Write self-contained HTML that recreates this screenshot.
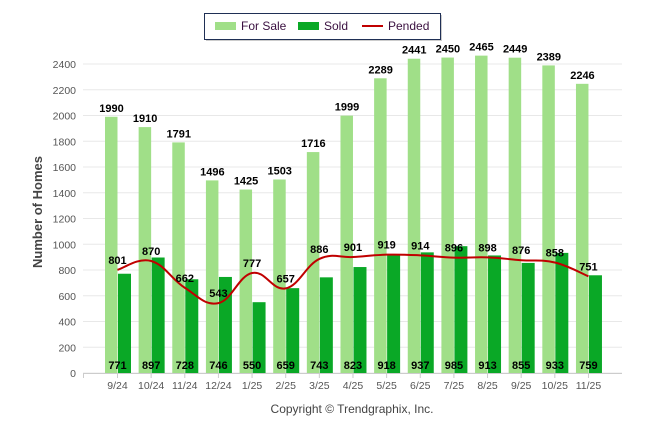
<!DOCTYPE html>
<html><head><meta charset="utf-8"><style>
body{margin:0;background:#fff;width:646px;height:434px;overflow:hidden;font-family:"Liberation Sans",Arial,sans-serif}
svg{display:block}
</style></head><body>
<svg id="chart" width="646" height="434" xmlns="http://www.w3.org/2000/svg"></svg>
<script>
const categories=["9/24","10/24","11/24","12/24","1/25","2/25","3/25","4/25","5/25","6/25","7/25","8/25","9/25","10/25","11/25"];
const forSale=[1990,1910,1791,1496,1425,1503,1716,1999,2289,2441,2450,2465,2449,2389,2246];
const sold=[771,897,728,746,550,659,743,823,918,937,985,913,855,933,759];
const pended=[801,870,662,543,777,657,886,901,919,914,896,898,876,858,751];
const yTicks=[0,200,400,600,800,1000,1200,1400,1600,1800,2000,2200,2400];

const svg=document.getElementById('chart');
const NS='http://www.w3.org/2000/svg';
function mk(tag,attrs,parent){const e=document.createElementNS(NS,tag);for(const k in attrs)e.setAttribute(k,attrs[k]);(parent||svg).appendChild(e);return e;}
const y0=373,yTop=64,vTop=2400;
function yScale(v){return y0-(v/vTop)*(y0-yTop);}
function xScale(i){return 117.5+33.64*i;}

// grid + y labels
yTicks.forEach(t=>{
  const g=mk('line',{x1:83,x2:622,y1:yScale(t),y2:yScale(t),stroke:'#e8e8e8','stroke-width':1});
  
  
  const l=mk('text',{x:76,y:yScale(t)+4,'text-anchor':'end','font-size':'10.5',fill:'#555'});
  l.textContent=t;
  
  
});
const ax=mk('line',{x1:83,x2:622,y1:y0+0.5,y2:y0+0.5,stroke:'#ccc'});


mk('line',{x1:83.5,x2:83.5,y1:y0,y2:y0+5,stroke:'#ccc'});

const yt=mk('text',{x:0,y:0,transform:'translate(42,212) rotate(-90)','text-anchor':'middle','font-size':'13','font-weight':'bold',fill:'#444'});
yt.textContent='Number of Homes';



categories.forEach((c,i)=>{
  const cx=xScale(i);
  mk('line',{x1:cx,x2:cx,y1:y0,y2:y0+5,stroke:'#ccc'});
  const b1=mk('rect',{x:cx-12.5,y:yScale(forSale[i]),width:12.5,height:y0-yScale(forSale[i]),fill:'#a0df88'});
  
  
  const b2=mk('rect',{x:cx+0.5,y:yScale(sold[i]),width:13,height:y0-yScale(sold[i]),fill:'#0aa826'});
  
  
  const tl=mk('text',{x:cx,y:389,'text-anchor':'middle','font-size':'10.5',fill:'#555'});
  tl.textContent=c;
  
  
});

// pended smooth line
const pts=pended.map((v,i)=>[xScale(i),yScale(v)]);
let d='M'+pts[0][0]+','+pts[0][1];
for(let i=0;i<pts.length-1;i++){
  const p0=pts[Math.max(0,i-1)],p1=pts[i],p2=pts[i+1],p3=pts[Math.min(pts.length-1,i+2)];
  const t=0.2;
  const c1=[p1[0]+(p2[0]-p0[0])*t,p1[1]+(p2[1]-p0[1])*t];
  const c2=[p2[0]-(p3[0]-p1[0])*t,p2[1]-(p3[1]-p1[1])*t];
  d+=' C'+c1+' '+c2+' '+p2;
}
const pl=mk('path',{d:d,fill:'none',stroke:'#c00000','stroke-width':2});



// value labels
categories.forEach((c,i)=>{
  const cx=xScale(i);
  const a=mk('text',{x:cx-6,y:yScale(forSale[i])-5,'text-anchor':'middle','font-size':'11','font-weight':'bold',fill:'#000'});
  a.textContent=forSale[i];
  
  
  const b=mk('text',{x:cx,y:369,'text-anchor':'middle','font-size':'11','font-weight':'bold',fill:'#000'});
  b.textContent=sold[i];
  
  
  const p=mk('text',{x:cx,y:yScale(pended[i])-6,'text-anchor':'middle','font-size':'11','font-weight':'bold',fill:'#000'});
  p.textContent=pended[i];
  
  
});

// legend
const lg=mk('g',{});


mk('rect',{x:206,y:15,width:236,height:26,fill:'#999',opacity:0.5},lg);
mk('rect',{x:204.5,y:13.5,width:236,height:26,fill:'#fff',stroke:'#1f2f55','stroke-width':1},lg);
const leg=[["For Sale",215,'rect','#a0df88'],["Sold",298,'rect','#0aa826'],["Pended",362,'line','#c00000']];
leg.forEach(e=>{
  const g=mk('g',{},lg);
  
  
  if(e[2]==='rect')mk('rect',{x:e[1],y:22,width:21,height:8,fill:e[3]},g);
  else mk('line',{x1:e[1],x2:e[1]+21,y1:26,y2:26,stroke:e[3],'stroke-width':2},g);
  const t=mk('text',{x:e[1]+26,y:30,'font-size':'12',fill:'#3a1040'},g);
  t.textContent=e[0];
});

const cp=mk('text',{x:352,y:413,'text-anchor':'middle','font-size':'12',fill:'#444'});
cp.textContent='Copyright © Trendgraphix, Inc.';


</script>
</body></html>
